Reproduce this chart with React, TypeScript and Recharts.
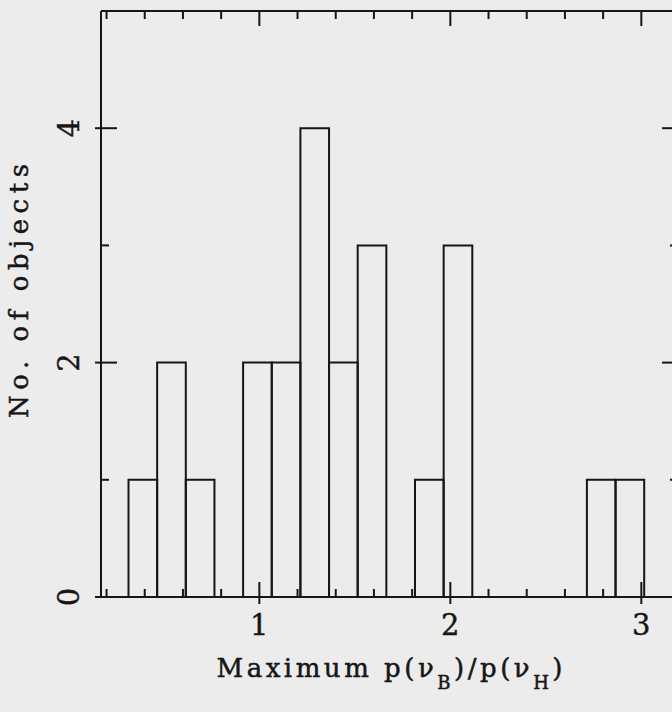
import { ComposedChart, XAxis, YAxis, ReferenceArea, Line } from "recharts";

// histogram bins (lower edge) and counts, width 0.15
const binLow = [
  0.315, 0.465, 0.615, 0.765, 0.915, 1.065, 1.215, 1.365, 1.515, 1.665, 1.815,
  1.965, 2.115, 2.265, 2.415, 2.565, 2.715, 2.865,
];
const binCount = [1, 2, 1, 0, 2, 2, 4, 2, 3, 0, 1, 3, 0, 0, 0, 0, 1, 1];
const binWidth = 0.15;

const xMajorTicks = [1, 2, 3];
const xMinorTicks = [0.2, 0.4, 0.6, 0.8, 1.2, 1.4, 1.6, 1.8, 2.2, 2.4, 2.6, 2.8];
const yMajorTicks = [0, 2, 4];
const yMinorTicks = [1, 3];

const xTicks = [...xMinorTicks, ...xMajorTicks].sort((a, b) => a - b);
const yTicks = [...yMinorTicks, ...yMajorTicks].sort((a, b) => a - b);

const rows = binLow.map((lo, i) => ({ mid: lo + binWidth / 2, n: binCount[i] }));

const ink = "#161616";
const paper = "#ececec";
const font = "'DejaVu Serif', serif";

function BottomTick({ x, y, payload }: any) {
  const major = xMajorTicks.includes(payload.value);
  return (
    <g>
      <line
        x1={x}
        x2={x}
        y1={major ? y - 15 : y - 8}
        y2={major ? y + 7 : y}
        stroke={ink}
        strokeWidth={2}
      />
      {major && (
        <text
          x={x}
          y={y + 38}
          textAnchor="middle"
          fontSize={29}
          fontFamily={font}
          fill={ink}
          stroke={ink}
          strokeWidth={0.4}
        >
          {payload.value}
        </text>
      )}
    </g>
  );
}

function TopTick({ x, y, payload }: any) {
  const major = xMajorTicks.includes(payload.value);
  return (
    <line x1={x} x2={x} y1={y} y2={major ? y + 15 : y + 8} stroke={ink} strokeWidth={2} />
  );
}

function LeftTick({ x, y, payload }: any) {
  const major = yMajorTicks.includes(payload.value);
  return (
    <g>
      <line
        x1={major ? x - 6 : x}
        x2={major ? x + 16 : x + 8}
        y1={y}
        y2={y}
        stroke={ink}
        strokeWidth={2}
      />
      {major && (
        <text
          transform={`translate(${x - 32}, ${y}) rotate(-90)`}
          textAnchor="middle"
          dominantBaseline="central"
          fontSize={29}
          fontFamily={font}
          fill={ink}
          stroke={ink}
          strokeWidth={0.4}
        >
          {payload.value}
        </text>
      )}
    </g>
  );
}

function RightTick({ x, y, payload }: any) {
  const major = yMajorTicks.includes(payload.value);
  return (
    <line
      x1={major ? x - 16 : x - 8}
      x2={major ? x + 6 : x}
      y1={y}
      y2={y}
      stroke={ink}
      strokeWidth={2}
    />
  );
}

function XTitle({ viewBox }: any) {
  const cx = viewBox.x + viewBox.width / 2;
  const y = viewBox.y + 80;
  return (
    <text
      x={cx}
      y={y}
      textAnchor="middle"
      fontSize={26}
      fontFamily={font}
      fill={ink}
      stroke={ink}
      strokeWidth={0.5}
      textLength={346}
      lengthAdjust="spacing"
    >
      Maximum p(ν
      <tspan fontSize={18} dy={12}>B</tspan>
      <tspan dy={-12}>)/p(ν</tspan>
      <tspan fontSize={18} dy={12}>H</tspan>
      <tspan dy={-12}>)</tspan>
    </text>
  );
}

function YTitle({ viewBox }: any) {
  const x = viewBox.x + viewBox.width - 73;
  const y = viewBox.y + viewBox.height / 2 - 13;
  return (
    <text
      transform={`translate(${x}, ${y}) rotate(-90)`}
      textAnchor="middle"
      fontSize={26}
      fontFamily={font}
      fill={ink}
      stroke={ink}
      strokeWidth={0.5}
      textLength={254}
      lengthAdjust="spacing"
    >
      No. of objects
    </text>
  );
}

export default function App() {
  return (
    <div
      style={{
        position: "absolute",
        left: 0,
        top: 0,
        width: 672,
        height: 712,
        overflow: "hidden",
        background: paper,
      }}
    >
      <ComposedChart
        width={700}
        height={712}
        data={rows}
        margin={{ top: 1, right: 12, bottom: 75, left: 61 }}
      >
        <XAxis
          xAxisId="b"
          dataKey="mid"
          type="number"
          orientation="bottom"
          domain={[0.171, 3.192]}
          allowDataOverflow
          ticks={xTicks}
          interval={0}
          height={40}
          tickSize={0}
          tickMargin={0}
          tickLine={false}
          tick={BottomTick}
          axisLine={{ stroke: ink, strokeWidth: 2 }}
          label={<XTitle />}
        />
        <XAxis
          xAxisId="t"
          dataKey="mid"
          type="number"
          orientation="top"
          domain={[0.171, 3.192]}
          allowDataOverflow
          ticks={xTicks}
          interval={0}
          height={10}
          tickSize={0}
          tickMargin={0}
          tickLine={false}
          tick={TopTick}
          axisLine={{ stroke: ink, strokeWidth: 2 }}
        />
        <YAxis
          yAxisId="l"
          type="number"
          orientation="left"
          domain={[0, 5]}
          allowDataOverflow
          ticks={yTicks}
          interval={0}
          width={40}
          tickSize={0}
          tickMargin={0}
          tickLine={false}
          tick={LeftTick}
          axisLine={{ stroke: ink, strokeWidth: 2 }}
          label={<YTitle />}
        />
        <YAxis
          yAxisId="r"
          type="number"
          orientation="right"
          domain={[0, 5]}
          allowDataOverflow
          ticks={yTicks}
          interval={0}
          width={10}
          tickSize={0}
          tickMargin={0}
          tickLine={false}
          tick={RightTick}
          axisLine={{ stroke: ink, strokeWidth: 2 }}
        />
        <Line
          xAxisId="b"
          yAxisId="l"
          dataKey="n"
          stroke="none"
          dot={false}
          activeDot={false}
          isAnimationActive={false}
        />
        <Line
          xAxisId="t"
          yAxisId="r"
          dataKey="n"
          stroke="none"
          dot={false}
          activeDot={false}
          isAnimationActive={false}
        />
        {binLow.map((lo, i) =>
          binCount[i] > 0 ? (
            <ReferenceArea
              key={i}
              xAxisId="b"
              yAxisId="l"
              x1={lo}
              x2={lo + binWidth}
              y1={0}
              y2={binCount[i]}
              fill="none"
              fillOpacity={0}
              stroke={ink}
              strokeWidth={2}
            />
          ) : null
        )}
      </ComposedChart>
    </div>
  );
}
